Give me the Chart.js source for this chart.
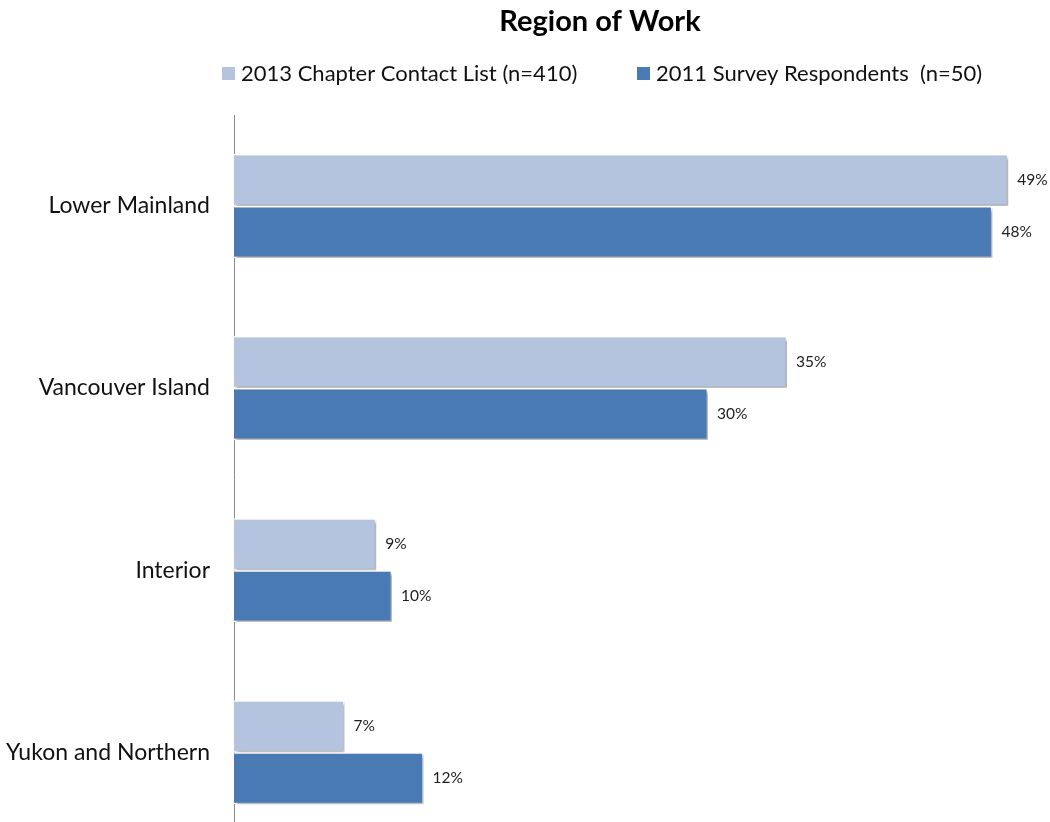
<!DOCTYPE html>
<html>
<head>
<meta charset="utf-8">
<script src="https://cdn.jsdelivr.net/npm/chart.js@4/dist/chart.umd.min.js"></script>
<style>
  html, body { margin: 0; padding: 0; background: #fff; overflow: hidden; }
  #wrap { width: 1050px; height: 822px; overflow: hidden; }
  #box { position: relative; width: 1050px; height: 881px; }
  canvas { display: block; }
</style>
</head>
<body>
<div id="wrap"><div id="box"><canvas id="c"></canvas></div></div>
<script>
const chartTitle = 'Region of Work';
const regions = ['Lower Mainland', 'Vancouver Island', 'Interior', 'Yukon and Northern'];
const seriesNames = ['2013 Chapter Contact List (n=410)', '2011 Survey Respondents  (n=50)'];
const contactList2013 = [49, 35, 9, 7];
const surveyRespondents2011 = [48, 30, 10, 12];
const seriesColors = ['#B4C4DF', '#4A7AB4'];

const FONT = 'Lato, "Open Sans", sans-serif';

// Title and legend drawn above the plot
const headerPlugin = {
  id: 'header',
  afterDraw(chart) {
    const ctx = chart.ctx;
    ctx.save();
    ctx.fillStyle = '#000';
    ctx.font = 'bold 29px ' + FONT;
    ctx.textAlign = 'center';
    ctx.textBaseline = 'middle';
    ctx.fillText(chartTitle, 600, 22);

    ctx.font = '22px ' + FONT;
    ctx.textAlign = 'left';
    const items = [{ x: 222, name: seriesNames[0], color: seriesColors[0] },
                   { x: 637, name: seriesNames[1], color: seriesColors[1] }];
    items.forEach(it => {
      ctx.fillStyle = it.color;
      ctx.fillRect(it.x, 67, 13, 13);
      ctx.fillStyle = '#111';
      ctx.fillText(it.name, it.x + 19, 74);
    });
    ctx.restore();
  }
};

// Soft drop shadow under the bars
const shadowPlugin = {
  id: 'barShadow',
  beforeDatasetDraw(chart) {
    const ctx = chart.ctx;
    ctx.save();
    ctx.shadowColor = 'rgba(0,0,0,0.35)';
    ctx.shadowOffsetX = 2;
    ctx.shadowOffsetY = 2;
    ctx.shadowBlur = 3;
  },
  afterDatasetDraw(chart) {
    chart.ctx.restore();
  }
};

// Percentage labels at the end of each bar
const valueLabels = {
  id: 'valueLabels',
  afterDatasetsDraw(chart) {
    const ctx = chart.ctx;
    ctx.save();
    ctx.font = '15.5px ' + FONT;
    ctx.fillStyle = '#222';
    ctx.textAlign = 'left';
    ctx.textBaseline = 'middle';
    chart.data.datasets.forEach((ds, i) => {
      chart.getDatasetMeta(i).data.forEach((bar, j) => {
        ctx.fillText(ds.data[j] + '%', bar.x + 9, bar.y);
      });
    });
    ctx.restore();
  }
};

new Chart(document.getElementById('c'), {
  type: 'bar',
  data: {
    labels: regions,
    datasets: [
      { label: seriesNames[0], data: contactList2013, backgroundColor: seriesColors[0],
        borderColor: '#fff', borderWidth: 1.5, borderSkipped: 'left' },
      { label: seriesNames[1], data: surveyRespondents2011, backgroundColor: seriesColors[1],
        borderColor: '#fff', borderWidth: 1.5, borderSkipped: 'left' }
    ]
  },
  options: {
    indexAxis: 'y',
    responsive: true,
    maintainAspectRatio: false,
    animation: false,
    devicePixelRatio: 1,
    layout: { padding: { top: 115, right: 26, bottom: 16, left: 0 } },
    datasets: { bar: { categoryPercentage: 0.571, barPercentage: 1.0 } },
    plugins: {
      legend: { display: false },
      title: { display: false },
      tooltip: { enabled: false }
    },
    scales: {
      x: {
        display: false,
        min: 0, max: 50
      },
      y: {
        afterFit(scale) { scale.width = 234; },
        grid: { display: false, drawTicks: false },
        border: { display: true, color: '#8c8c8c', width: 1 },
        ticks: { color: '#111', font: { family: FONT, size: 23 }, padding: 24 }
      }
    }
  },
  plugins: [headerPlugin, shadowPlugin, valueLabels]
});
</script>
</body>
</html>
